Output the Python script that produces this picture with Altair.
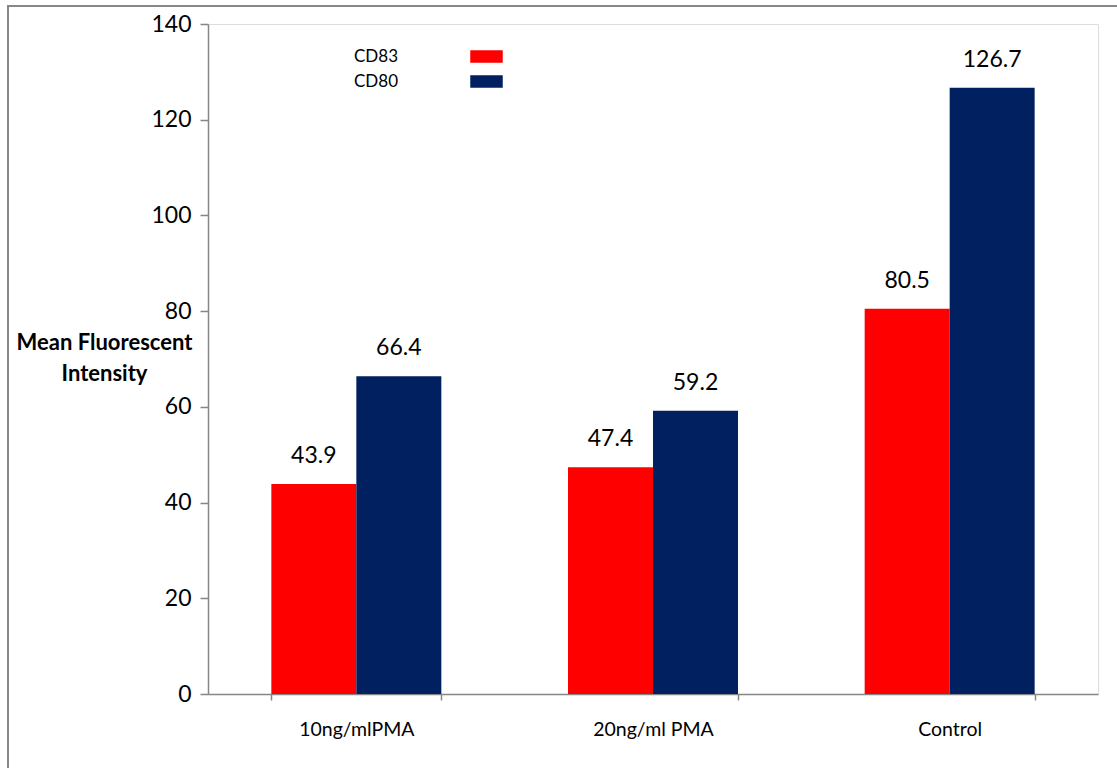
import altair as alt
import pandas as pd

categories = ["10ng/mlPMA", "20ng/ml PMA", "Control"]
series = ["CD83", "CD80"]
cd83 = [43.9, 47.4, 80.5]
cd80 = [66.4, 59.2, 126.7]
colors = ["#FF0000", "#002060"]
y_ticks = [0, 20, 40, 60, 80, 100, 120, 140]

rows = []
for i, c in enumerate(categories):
    rows.append({"cat": c, "series": "CD83", "value": cd83[i]})
    rows.append({"cat": c, "series": "CD80", "value": cd80[i]})
df = pd.DataFrame(rows)

FONT = "Lato"
AX = "#868686"

x_enc = alt.X("cat:N", sort=categories,
              scale=alt.Scale(paddingInner=0.427, paddingOuter=0.2135),
              axis=alt.Axis(title=None, labelAngle=0, labelFontSize=19.5, labelFont=FONT,
                            labelColor="black", labelPadding=20, tickSize=6,
                            tickBand="extent", domainColor=AX, tickColor=AX,
                            domainWidth=1.5, tickWidth=1.5, grid=False))
xo = alt.XOffset("series:N", sort=series, scale=alt.Scale(paddingInner=0, paddingOuter=0))
y_enc = alt.Y("value:Q", scale=alt.Scale(domain=[0, 140], nice=False),
              axis=alt.Axis(values=y_ticks, title=["Mean Fluorescent", "Intensity"],
                            titleAngle=0, titleFont=FONT, titleFontSize=22,
                            titleFontWeight="bold", titleColor="black",
                            titleAlign="center", titleBaseline="top",
                            titleX=-104, titleY=308, titleLineHeight=31,
                            labelFontSize=23, labelFont=FONT, labelColor="black",
                            labelPadding=9, tickSize=8, domainColor=AX, tickColor=AX,
                            domainWidth=1.5, tickWidth=1.5, grid=False))

bars = alt.Chart(df).mark_bar().encode(
    x=x_enc, xOffset=xo, y=y_enc,
    color=alt.Color("series:N", sort=series,
                    scale=alt.Scale(domain=series, range=colors),
                    legend=alt.Legend(title=None, orient="none", legendX=266, legendY=20,
                                      symbolType="M-1.3,-0.5H1.3V0.5H-1.3Z", symbolSize=625,
                                      symbolStrokeWidth=0, labelFont=FONT, labelFontSize=17,
                                      labelColor="black", labelAlign="right",
                                      labelOffset={"expr": "-101"}, rowPadding=4)),
)

labels = alt.Chart(df).mark_text(font=FONT, fontSize=23, baseline="alphabetic", dy=-21,
                                 color="black").encode(
    x=alt.X("cat:N", sort=categories), xOffset=alt.XOffset("series:N", sort=series),
    y="value:Q", text=alt.Text("value:Q", format=".1f"))

frame = alt.Chart(pd.DataFrame({"a": [0]})).mark_rect(
    fill=None, fillOpacity=0, stroke="#878787", strokeWidth=2).encode(
    x=alt.value(-200), x2=alt.value(930), y=alt.value(-18), y2=alt.value(760))

chart = alt.layer(frame, bars, labels).properties(
    width=890, height=670,
    autosize=alt.AutoSizeParams(type="none"),
    padding={"left": 208, "top": 24, "right": 19, "bottom": 74},
).configure_view(stroke=None).configure(background="white")

chart.save("out.html", embed_options={"renderer": "svg", "actions": False})
